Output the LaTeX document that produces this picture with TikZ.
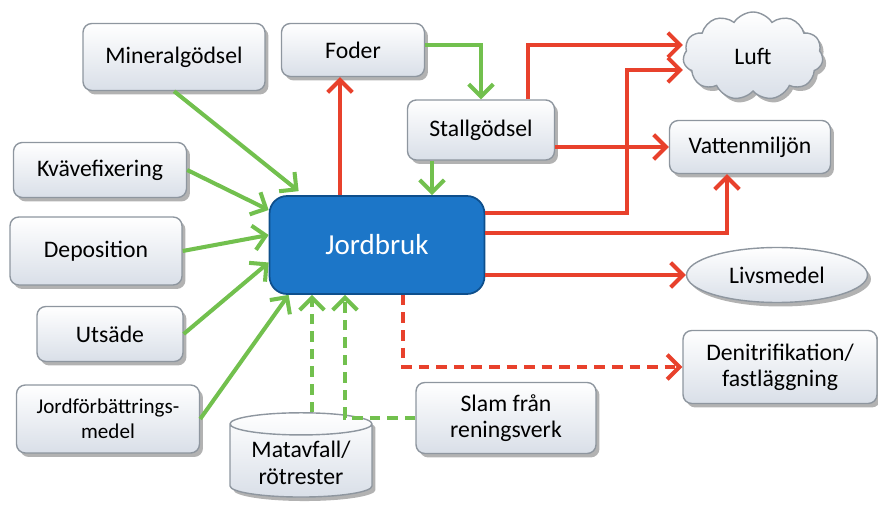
\documentclass[tikz,border=0pt]{standalone}
\usepackage{fontspec}
\setmainfont{Carlito}
\usetikzlibrary{arrows.meta,shapes.geometric,shapes.symbols,shadows}

\definecolor{boxline}{HTML}{8E969F}
\definecolor{boxfill}{HTML}{D9DFE8}
\definecolor{grn}{HTML}{72C04E}
\definecolor{rd}{HTML}{E8412C}
\definecolor{jblue}{HTML}{1C76C8}
\definecolor{jline}{HTML}{0E4F8C}

\tikzset{
    box/.style={draw=boxline, line width=0.8pt, rounded corners=5pt,
        top color=white, bottom color=boxfill, align=center,
        font=\fontsize{13.5}{15}\selectfont,
        drop shadow={shadow xshift=0.07cm, shadow yshift=-0.08cm, opacity=0.3, fill=black}},
    grarrow/.style={draw=grn, line width=2.3pt, -{Straight Barb[length=7pt,width=14pt]}},
    rdarrow/.style={draw=rd, line width=2.3pt, -{Straight Barb[length=7pt,width=14pt]}},
    dashline/.style={dash pattern=on 6pt off 4pt},
}

\begin{document}
\begin{tikzpicture}[x=0.02cm, y=-0.02cm]
    \useasboundingbox (0,0) rectangle (878,506);

    \node [box, minimum width=3.64cm, minimum height=1.34cm] (mineral) at (174,57) {Mineralgödsel};
    \node [box, minimum width=2.86cm, minimum height=1.06cm] (foder) at (353,50) {Foder};
    \node [box, minimum width=2.94cm, minimum height=1.2cm] (stall) at (481,130) {Stallgödsel};
    \node [box, minimum width=3.46cm, minimum height=1.1cm] (kvave) at (100,170) {Kvävefixering};
    \node [box, minimum width=3.44cm, minimum height=1.36cm] (depo) at (96,251) {Deposition};
    \node [box, minimum width=2.92cm, minimum height=1.1cm] (utsade) at (110,334) {Utsäde};
    \node [box, minimum width=3.66cm, minimum height=1.36cm, font=\fontsize{12}{14}\selectfont] (jordf) at (108,419) {Jordförbättrings-\\medel};
    \node [box, minimum width=3.6cm, minimum height=1.42cm] (slam) at (506,418) {Slam från\\reningsverk};
    \node [box, minimum width=3.22cm, minimum height=1.06cm] (vatten) at (750,147) {Vattenmiljön};
    \node [box, minimum width=3.88cm, minimum height=1.46cm] (denit) at (780,367) {Denitrifikation/\\fastläggning};
    \node [box, ellipse, minimum width=3.62cm, minimum height=1.1cm] (livs) at (777,275) {Livsmedel};
    \node [box, cloud, cloud puffs=11, cloud puff arc=115, aspect=1.6, rounded corners=0pt,
        minimum width=2.8cm, minimum height=1.76cm] (luft) at (753,56) {Luft};
    \node [box, cylinder, shape border rotate=90, aspect=0.2, rounded corners=0pt,
        minimum width=2.84cm, minimum height=1.5cm] (mat) at (301,463) {Matavfall/\\rötrester};
    \node [draw=jline, line width=1pt, fill=jblue, rounded corners=10pt, text=white,
        minimum width=4.3cm, minimum height=1.96cm, font=\fontsize{16.5}{18}\selectfont] (jord) at (377,245) {Jordbruk};

    \coordinate (s1) at ([xshift=-0.98cm]stall.south);
    \coordinate (m1) at ([xshift=0.22cm]mat.north);
    \coordinate (r1) at ([xshift=-0.74cm]jord.north);
    \coordinate (r2) at ([xshift=0.94cm]stall.north);
    \coordinate (l1) at ([yshift=0.22cm]luft.west);
    \coordinate (l2) at ([yshift=-0.28cm]luft.west);

    % inflows
    \draw [grarrow] (mineral.south) -- ([xshift=0.6cm,yshift=0.08cm]jord.north west);
    \draw [grarrow] (kvave.east) -- ([yshift=0.7cm]jord.west);
    \draw [grarrow] (depo.east) -- ([yshift=0.2cm]jord.west);
    \draw [grarrow] (utsade.east) -- ([yshift=-0.35cm]jord.west);
    \draw [grarrow] (jordf.east) -- ([xshift=0.4cm]jord.south west);
    \draw [grarrow] ([yshift=0.1cm]foder.east) -| (stall.north);
    \draw [grarrow] (s1) -- (s1 |- jord.north);
    \draw [grarrow, dashline] (m1) -- (m1 |- jord.south);
    \draw [grarrow, dashline] (slam.west) -| ([xshift=-0.64cm]jord.south);

    % outflows
    \draw [rdarrow] (r1) -- (r1 |- foder.south);
    \draw [rdarrow] (r2) |- (l1);
    \draw [rdarrow] ([yshift=0.64cm]jord.east) -| ([xshift=-1.12cm]l2) -- (l2);
    \draw [rdarrow] (stall.east |- vatten.west) -- (vatten.west);
    \draw [rdarrow] ([yshift=0.24cm]jord.east) -| ([xshift=-0.46cm]vatten.south);
    \draw [rdarrow] (jord.east |- livs.west) -- (livs.west);
    \draw [rdarrow, dashline] ([xshift=0.52cm]jord.south) |- (denit.west);
\end{tikzpicture}
\end{document}
